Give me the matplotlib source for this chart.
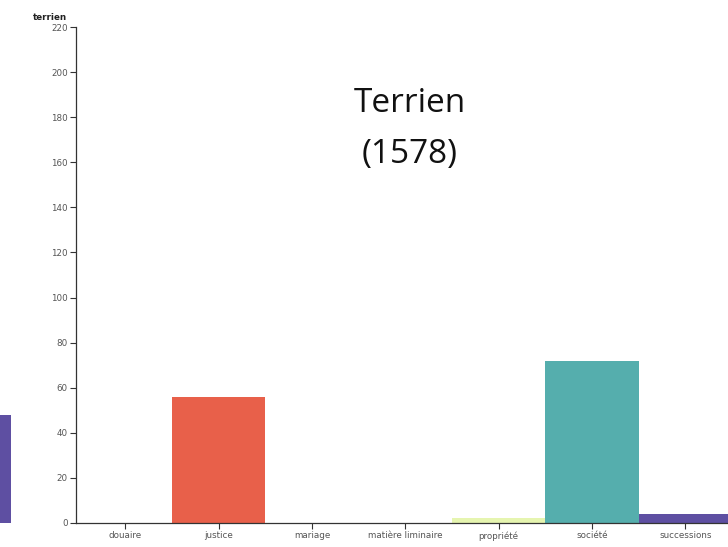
import matplotlib
matplotlib.use("Agg")
import matplotlib.pyplot as plt

categories = ["douaire", "justice", "mariage", "matière liminaire", "propriété", "société", "successions"]
values = [0, 56, 0, 0, 2, 72, 4]
colors = ["#9e0142", "#e8604a", "#fdae61", "#fee08b", "#e6f5b0", "#55aead", "#5e4fa2"]
yticks = [0, 20, 40, 60, 80, 100, 120, 140, 160, 180, 200, 220]
neighbour_value = [48]
title_lines = ["Terrien", "(1578)"]
ylabel_text = "terrien"

W, H = 728, 547
fig = plt.figure(figsize=(W / 100, H / 100), dpi=100)
fig.patch.set_facecolor("white")

def fx(px):
    return px / W

def fy(py):
    return 1 - py / H

# main axes
left, right, top, bottom = 76, 732, 27, 523
ax = fig.add_axes([fx(left), fy(bottom), fx(right - left), fy(top) - fy(bottom)])
x = list(range(len(categories)))
ax.bar(x, values, width=1.0, color=colors, align="center", linewidth=0)
ax.set_xlim(-0.53, 6.5)
ax.set_ylim(0, 220)
ax.set_yticks(yticks)
ax.set_xticks(x)
ax.set_xticklabels(categories)
for s in ["top", "right"]:
    ax.spines[s].set_visible(False)
for s in ["left", "bottom"]:
    ax.spines[s].set_color("#333333")
    ax.spines[s].set_linewidth(0.9)
ax.tick_params(axis="both", direction="out", length=4, width=0.8, color="#333333",
               labelsize=6.3, labelcolor="#555555", pad=2)
ax.text(-0.04, 1.01, ylabel_text, transform=ax.transAxes, ha="center", va="bottom",
        fontsize=6.3, fontweight="bold", color="#222222")
ax.text(fx(410), fy(104), title_lines[0], transform=fig.transFigure, ha="center", va="center",
        fontsize=24, family="Open Sans", color="#111111")
ax.text(fx(410), fy(154), title_lines[1], transform=fig.transFigure, ha="center", va="center",
        fontsize=24, family="Open Sans", color="#111111")

# partial neighbouring chart bar at the left edge
ax2 = fig.add_axes([0, fy(bottom), fx(11), fy(top) - fy(bottom)])
ax2.bar([0], neighbour_value, width=1.0, color="#5e4fa2", linewidth=0)
ax2.set_xlim(-0.5, 0.5)
ax2.set_ylim(0, 220)
ax2.axis("off")

fig.savefig("out.png", dpi=100)
